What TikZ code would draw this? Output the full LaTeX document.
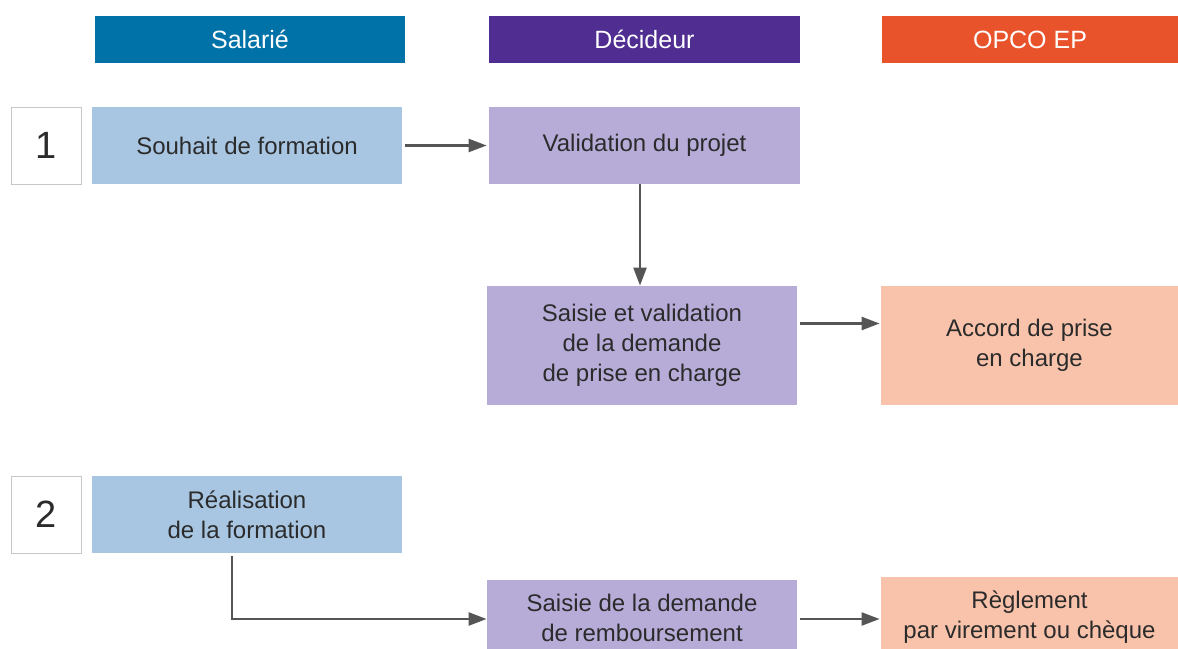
\documentclass[tikz,border=0pt]{standalone}
\usepackage{fontspec}
\setmainfont{Liberation Sans}
\usetikzlibrary{arrows.meta}

\definecolor{salHead}{HTML}{0072A8}
\definecolor{decHead}{HTML}{4F2D91}
\definecolor{opcHead}{HTML}{E9532B}
\definecolor{salFill}{HTML}{A8C6E2}
\definecolor{decFill}{HTML}{B7ACD8}
\definecolor{opcFill}{HTML}{F8C3AA}
\definecolor{txtGrey}{HTML}{2B2B2B}
\definecolor{arrGrey}{HTML}{555555}

\tikzset{
  box/.style={inner sep=0pt, align=center, text=txtGrey, font=\fontsize{12}{15}\selectfont},
  head/.style={box, text=white, font=\fontsize{12.5}{15}\selectfont, minimum height=23.5pt},
  num/.style={draw=black!22, fill=white, line width=0.5pt, inner sep=0pt, text=txtGrey,
    minimum width=35pt, minimum height=38.5pt, font=\fontsize{19}{22}\selectfont},
  arr/.style={draw=arrGrey, line width=1.2pt, -{Triangle[length=9pt,width=6.5pt]}}
}

\begin{document}
\begin{tikzpicture}
  \begin{scope}[x=0.5pt, y=-0.5pt]
    \clip (0,0) rectangle (1178,648);
    \useasboundingbox (0,0) rectangle (1178,648);

    % Headers
    \node[head, fill=salHead, minimum width=155pt] (hSal) at (250,39.5) {Salarié};
    \node[head, fill=decHead, minimum width=155.5pt] (hDec) at (644.5,39.5) {Décideur};
    \node[head, fill=opcHead, minimum width=148pt] (hOpc) at (1030,39.5) {OPCO EP};

    % Step 1
    \node[num] (num1) at (46,145.5) {1};
    \node[box, fill=salFill, minimum width=155pt, minimum height=38.5pt] (souhait) at (247,145.5) {Souhait de formation};
    \node[box, fill=decFill, minimum width=155.5pt, minimum height=38.5pt] (valid) at (644.5,145.5) {Validation du projet};
    \node[box, fill=decFill, minimum width=155pt, minimum height=59.5pt] (saisie) at (642,345.5) {Saisie et validation\\de la demande\\de prise en charge};
    \node[box, fill=opcFill, minimum width=148.5pt, minimum height=59.5pt] (accord) at (1029.5,345.5) {Accord de prise\\en charge};

    % Step 2
    \node[num] (num2) at (46,514.5) {2};
    \node[box, fill=salFill, minimum width=155pt, minimum height=38.5pt] (realis) at (247,514.5) {Réalisation\\de la formation};
    \node[box, fill=decFill, minimum width=155pt, minimum height=38pt] (saisieR) at (642,618) {Saisie de la demande\\de remboursement};
    \node[box, fill=opcFill, minimum width=148.5pt, minimum height=40pt] (regl) at (1029.5,617) {Règlement\\par virement ou chèque};

    % Arrows
    \draw[arr, shorten <=1.5pt, shorten >=1pt] (souhait.east) -- (valid.west);
    \draw[arr] (valid.south -| 640,0) -- (saisie.north -| 640,0);
    \draw[arr, shorten <=1.5pt, shorten >=0.5pt] ([yshift=11pt]saisie.east) -- ([yshift=11pt]accord.west);
    \draw[arr] ([xshift=-7.5pt, yshift=-1.5pt]realis.south) |- ([yshift=-0.5pt]saisieR.west);
    \draw[arr, shorten <=1.5pt, shorten >=0.5pt] ([yshift=-0.5pt]saisieR.east) -- ([yshift=-0.5pt]saisieR.east -| regl.west);
  \end{scope}
\end{tikzpicture}
\end{document}
